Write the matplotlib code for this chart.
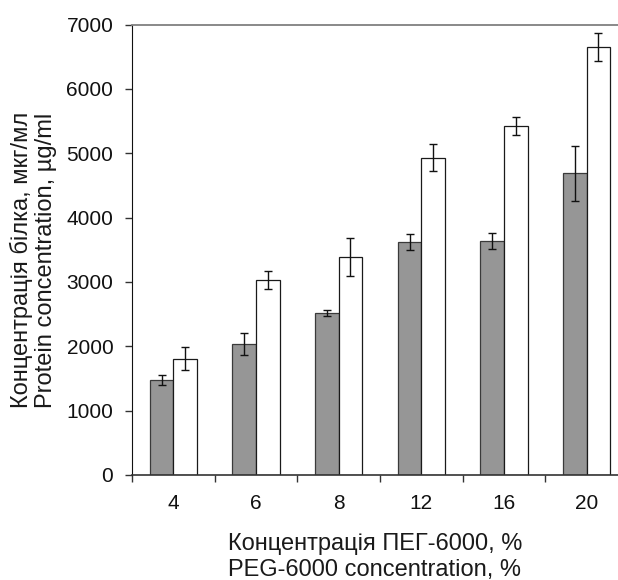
import matplotlib
matplotlib.use("Agg")
import matplotlib.pyplot as plt
import numpy as np

plt.rcParams['font.family'] = ['Liberation Sans', 'DejaVu Sans']

categories = ['4', '6', '8', '12', '16', '20']
grey_values = [1480, 2035, 2515, 3615, 3635, 4690]
grey_errors = [75, 170, 50, 125, 130, 430]
white_values = [1808, 3035, 3390, 4930, 5420, 6655]
white_errors = [180, 140, 295, 213, 140, 220]
y_ticks = [0, 1000, 2000, 3000, 4000, 5000, 6000, 7000]
x_label_lines = ['Концентрація ПЕГ-6000, %', 'PEG-6000 concentration, %']
y_label_lines = ['Концентрація білка, мкг/мл', 'Protein concentration, µg/ml']

W, H = 618, 580
fig = plt.figure(figsize=(W / 100, H / 100), dpi=100)
ax = fig.add_axes([132 / W, (H - 475) / H, (628 - 132) / W, (475 - 24.6) / H])

x = np.arange(len(categories))
bw = 0.285
ax.bar(x - bw / 2, grey_values, width=bw, color='#969696', edgecolor='#3a3a3a', linewidth=0.9)
ax.bar(x + bw / 2, white_values, width=bw, color='white', edgecolor='#1a1a1a', linewidth=0.9)
ax.errorbar(x - bw / 2, grey_values, yerr=grey_errors, fmt='none', ecolor='#111111',
            elinewidth=1.0, capsize=3, capthick=1.0)
ax.errorbar(x + bw / 2, white_values, yerr=white_errors, fmt='none', ecolor='#111111',
            elinewidth=1.0, capsize=3, capthick=1.0)

ax.set_xlim(-0.5, len(categories) - 0.5)
ax.set_ylim(0, 7000)
ax.set_yticks(y_ticks)
ax.set_yticklabels([str(t) for t in y_ticks])
ax.set_xticks(np.arange(len(categories) + 1) - 0.5)
ax.set_xticklabels([])
ax.set_xticks(x, minor=True)
ax.set_xticklabels(categories, minor=True)

ax.tick_params(axis='x', which='major', direction='out', length=5, width=1, color='#333333')
ax.tick_params(axis='x', which='minor', length=0, pad=14, labelsize=15, labelcolor='#111111')
ax.tick_params(axis='y', direction='out', length=5, width=1, pad=8.5, labelsize=15,
               color='#333333', labelcolor='#111111')

ax.spines['top'].set_color('#808080')
ax.spines['top'].set_linewidth(1.3)
ax.spines['right'].set_visible(False)
ax.spines['left'].set_color('#111111')
ax.spines['bottom'].set_color('#333333')
ax.spines['bottom'].set_linewidth(1.2)

for line, yc in zip(x_label_lines, [544, 570]):
    fig.text(375 / W, (H - yc) / H, line, ha='center', va='center', fontsize=17,
             color='#1a1a1a')
for line, xc in zip(y_label_lines, [21, 46]):
    fig.text(xc / W, (H - 260) / H, line, ha='center', va='center', fontsize=17,
             rotation=90, color='#1a1a1a')

fig.savefig('out.png', dpi=100)
